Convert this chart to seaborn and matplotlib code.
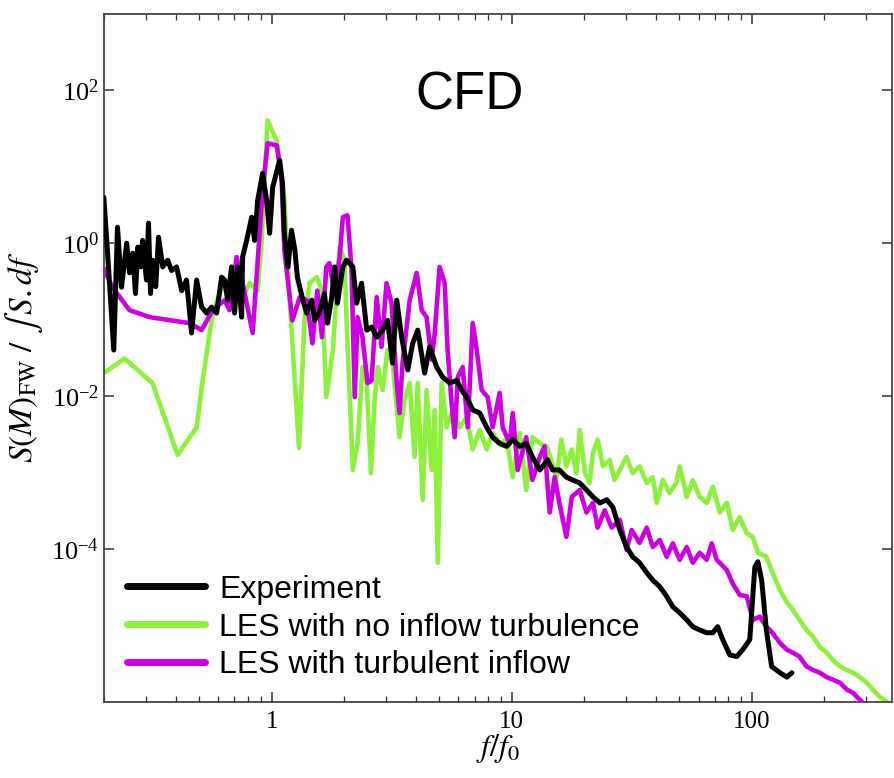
import numpy as np
import pandas as pd
import matplotlib
matplotlib.use("Agg")
import matplotlib.pyplot as plt
import seaborn as sns
from matplotlib.ticker import LogLocator, NullFormatter, LogFormatterMathtext

# ---------------------- Data ----------------------

# Experiment (black)
exp_f = [0.200, 0.207, 0.220, 0.228, 0.237, 0.249, 0.256, 0.264, 0.271, 0.277,
         0.285, 0.290, 0.301, 0.307, 0.313, 0.319, 0.329, 0.338, 0.352, 0.369,
         0.383, 0.402, 0.422, 0.442, 0.464, 0.487, 0.511, 0.536, 0.562, 0.590,
         0.619, 0.637, 0.656, 0.681, 0.701, 0.722, 0.750, 0.757, 0.787, 0.826,
         0.849, 0.875, 0.917, 0.953, 0.981, 1.01, 1.08, 1.11, 1.13, 1.17,
         1.21, 1.25, 1.28, 1.35, 1.40, 1.47, 1.51, 1.58, 1.66, 1.71,
         1.78, 1.83, 1.88, 1.98, 2.05, 2.18, 2.26, 2.37, 2.49, 2.61,
         2.74, 2.90, 3.04, 3.19, 3.32, 3.48, 3.69, 3.87, 4.06, 4.34,
         4.55, 4.87, 5.16, 5.52, 5.90, 6.19, 6.49, 6.88, 7.36, 7.87,
         8.33, 8.91, 9.53, 10.1, 10.8, 11.5, 12.2, 13.1, 14.1, 14.8,
         15.8, 16.9, 17.9, 19.2, 20.5, 21.8, 23.3, 24.9, 26.4, 28.2,
         30.1, 31.9, 34.1, 36.5, 38.7, 41.4, 44.2, 46.9, 50.1, 53.6,
         56.8, 60.7, 64.9, 68.8, 72.1, 75.7, 81.0, 86.6, 91.7, 98.1,
         103, 106, 110, 115, 121, 131, 140, 147]
exp_s = [4.0, 0.81, 0.040, 1.62, 0.266, 1.0, 0.41, 0.74, 0.22, 0.89,
         0.49, 1.09, 0.33, 1.83, 0.22, 0.60, 0.27, 1.2, 0.49, 0.60,
         0.44, 0.49, 0.24, 0.33, 0.067, 0.33, 0.146, 0.122, 0.146, 0.122,
         0.36, 0.33, 0.18, 0.49, 0.122, 0.49, 0.108, 0.66, 1.09, 2.19,
         1.09, 3.65, 8.2, 3.65, 1.35, 5.4, 12.2, 6.1, 1.35, 0.49,
         1.48, 0.81, 0.36, 0.18, 0.122, 0.18, 0.098, 0.122, 0.22, 0.090,
         0.197, 0.49, 0.164, 0.49, 0.60, 0.49, 0.164, 0.30, 0.073, 0.080,
         0.059, 0.073, 0.098, 0.027, 0.18, 0.059, 0.022, 0.049, 0.073, 0.020,
         0.044, 0.024, 0.0177, 0.0148, 0.016, 0.012, 0.0097, 0.0066, 0.0060, 0.0039,
         0.0029, 0.0024, 0.0022, 0.0027, 0.0022, 0.0024, 0.0016, 0.00108, 0.00146, 0.00108,
         0.00108, 0.00087, 0.0008, 0.00073, 0.00059, 0.00048, 0.0004, 0.00044, 0.00035, 0.000177,
         0.000106, 7.9e-5, 6.6e-5, 4.9e-5, 3.9e-5, 3.2e-5, 2.4e-5, 1.75e-5, 1.46e-5, 1.18e-5,
         9.6e-6, 8.7e-6, 8.0e-6, 8.0e-6, 9.6e-6, 6.5e-6, 4.1e-6, 3.9e-6, 4.8e-6, 6.5e-6,
         5.8e-5, 6.8e-5, 3.9e-5, 8.7e-6, 2.9e-6, 2.4e-6, 2.1e-6, 2.4e-6]

# LES with no inflow turbulence (green)
les0_f = [0.200, 0.244, 0.319, 0.406, 0.487, 0.516, 0.568, 0.625, 0.688, 0.757,
          0.810, 0.875, 0.909, 0.962, 1.05, 1.13, 1.19, 1.30, 1.37, 1.44,
          1.54, 1.62, 1.69, 1.80, 1.92, 2.01, 2.07, 2.18, 2.28, 2.39,
          2.49, 2.59, 2.69, 2.77, 2.90, 3.04, 3.19, 3.41, 3.58, 3.76,
          3.94, 4.06, 4.26, 4.42, 4.64, 4.78, 4.92, 5.11, 5.36, 5.68,
          6.07, 6.49, 6.88, 7.36, 7.87, 8.33, 8.91, 9.53, 10.1, 10.8,
          11.5, 12.2,
          13.1, 14.0, 14.6, 15.4, 16.1, 16.9, 17.8, 18.6, 19.2, 20.2,
          21.1, 21.8, 22.8, 24.0, 25.6, 26.8, 28.2, 30.1, 31.9, 34.1,
          36.5, 38.7, 40.2, 42.6, 45.4, 48.5, 50.1, 53.6, 56.8, 60.7,
          64.9, 68.8, 73.6, 78.7, 83.4, 89.1, 95.3, 101, 106,
          115, 122, 131, 140, 148, 158, 169, 180, 192, 205,
          218, 233, 249, 264, 282, 301, 319, 341, 365, 400]
les0_s = [0.020, 0.031, 0.0148, 0.0017, 0.0039, 0.016, 0.122, 0.27, 0.36, 0.197,
          0.30, 0.24, 1.09, 40.5, 22, 3.65, 0.18, 0.0021, 0.098, 0.30,
          0.36, 0.24, 0.0097, 0.040, 0.89, 0.60, 0.049, 0.00108, 0.0024, 0.024,
          0.0148, 0.00098, 0.0097, 0.024, 0.012, 0.040, 0.027, 0.0029, 0.0089, 0.0148,
          0.0016, 0.0148, 0.00044, 0.012, 0.00108, 0.0066, 6.6e-5, 0.0148, 0.0039, 0.0066,
          0.0039, 0.0053, 0.0020, 0.0036, 0.0020, 0.0033, 0.0024, 0.0027, 0.00087, 0.0033,
          0.00059, 0.0029,
          0.0024, 0.0022, 0.00146, 0.00087, 0.0027, 0.0012, 0.0020, 0.00098, 0.0036, 0.00098,
          0.00073, 0.0018, 0.0027, 0.0012, 0.00146, 0.0008, 0.00108, 0.0016, 0.00098, 0.0012,
          0.00073, 0.00087, 0.0004, 0.0008, 0.00054, 0.00073, 0.0012, 0.00048, 0.0008, 0.00048,
          0.0004, 0.00065, 0.0003, 0.0004, 0.000177, 0.00026, 0.00016, 0.000144, 8.9e-5,
          7.9e-5, 4.9e-5, 2.9e-5, 2.0e-5, 1.6e-5, 1.18e-5, 8.7e-6, 7.1e-6, 5.2e-6, 4.4e-6,
          3.5e-6, 2.9e-6, 2.6e-6, 2.4e-6, 2.1e-6, 1.77e-6, 1.44e-6, 1.16e-6, 1.0e-6, 8.5e-7]

# LES with turbulent inflow (magenta)
les1_f = [0.200, 0.217, 0.256, 0.310, 0.455, 0.511, 0.568, 0.637, 0.668, 0.715,
          0.757, 0.834, 0.917, 0.962, 1.05, 1.10, 1.13, 1.22, 1.31, 1.40,
          1.48, 1.55, 1.62, 1.69, 1.74, 1.83, 1.92, 1.98, 2.07, 2.15,
          2.22, 2.28, 2.39, 2.51, 2.61, 2.74, 2.87, 3.01, 3.16, 3.32,
          3.41, 3.51, 3.76, 4.02, 4.22, 4.42, 4.64, 4.78, 5.01, 5.26,
          5.41, 5.62, 5.79, 5.96, 6.25, 6.56, 6.88, 7.15, 7.50, 7.94,
          8.33, 8.91, 9.17, 9.81, 10.1, 10.6, 11.5, 12.2, 13.1,
          13.7, 14.4, 15.1, 15.8, 16.9, 17.8, 19.2, 20.5, 21.8, 22.8,
          24.4, 26.1, 28.2, 30.1, 31.6, 34.1, 36.5, 38.7, 41.4, 44.2,
          46.9, 50.1, 53.6, 56.8, 60.7, 64.9, 68.1, 71.5, 78.7, 83.4,
          89.1, 95.3, 101, 108, 115, 122, 131, 140, 148, 158,
          169, 180, 192, 205, 218, 233, 249, 264, 282, 296]
les1_s = [0.47, 0.266, 0.133, 0.108, 0.090, 0.073, 0.133, 0.18, 0.133, 0.66,
          0.30, 0.067, 4.9, 20.3, 19.1, 7.3, 0.81, 0.098, 0.197, 0.18,
          0.049, 0.24, 0.059, 0.49, 0.55, 0.22, 0.66, 2.19, 2.32, 0.49,
          0.0097, 0.108, 0.059, 0.0148, 0.016, 0.197, 0.044, 0.30, 0.164, 0.0148,
          0.0060, 0.027, 0.18, 0.41, 0.133, 0.108, 0.030, 0.067, 0.49, 0.30,
          0.040, 0.0081, 0.0029, 0.0177, 0.024, 0.0039, 0.090, 0.040, 0.012, 0.0097,
          0.0039, 0.011, 0.0039, 0.0024, 0.0060, 0.00108, 0.0029, 0.0008, 0.0016,
          0.0022, 0.0003, 0.00087, 0.0004, 0.000144, 0.00048, 0.00059, 0.0003, 0.0004, 0.00019,
          0.00032, 0.00019, 0.00024, 9.7e-5, 0.000177, 0.00012, 0.00019, 0.000106, 0.000131, 7.9e-5,
          0.000118, 7.2e-5, 0.000106, 6.6e-5, 8.9e-5, 7.2e-5, 0.000118, 7.2e-5, 5.3e-5, 3.5e-5,
          2.5e-5, 2.4e-5, 1.18e-5, 1.3e-5, 9.6e-6, 8.0e-6, 5.9e-6, 4.8e-6, 4.4e-6, 3.9e-6,
          2.9e-6, 2.6e-6, 2.4e-6, 2.1e-6, 1.94e-6, 1.77e-6, 1.44e-6, 1.31e-6, 1.06e-6, 9e-7]

labels = ["Experiment", "LES with no inflow turbulence", "LES with turbulent inflow"]
colors = ["#000000", "#8cf03c", "#cc00e0"]

data = pd.concat([
    pd.DataFrame({"f": exp_f, "S": exp_s, "case": labels[0]}),
    pd.DataFrame({"f": les0_f, "S": les0_s, "case": labels[1]}),
    pd.DataFrame({"f": les1_f, "S": les1_s, "case": labels[2]}),
], ignore_index=True)

# ---------------------- Plot ----------------------

sns.set_style("ticks")
plt.rcParams["mathtext.fontset"] = "stix"
plt.rcParams["text.color"] = "black"
plt.rcParams["axes.labelcolor"] = "black"

fig = plt.figure(figsize=(8.95, 7.78), dpi=100)
ax = fig.add_axes([0.116, 0.098, 0.881, 0.884])
ax.set_xscale("log")
ax.set_yscale("log")

# green first, then magenta, black experiment on top
for lab, col, lw, z in [(labels[1], colors[1], 3.3, 2), (labels[2], colors[2], 3.3, 3), (labels[0], colors[0], 3.6, 4)]:
    sub = data[data["case"] == lab]
    sns.lineplot(data=sub, x="f", y="S", color=col, lw=lw, sort=False,
                 estimator=None, ax=ax, label=lab, zorder=z)

ax.set_xlim(0.2, 385)
ax.set_ylim(1e-6, 1e3)

ax.set_yticks([1e-4, 1e-2, 1, 1e2])
ax.yaxis.set_major_formatter(LogFormatterMathtext())
ax.yaxis.set_minor_locator(plt.NullLocator())
ax.xaxis.set_minor_locator(LogLocator(base=10, subs=np.arange(2, 10)))
ax.xaxis.set_minor_formatter(NullFormatter())
ax.set_xticks([1, 10, 100])
ax.set_xticklabels(["1", "10", "100"])

ax.tick_params(which="both", direction="in", top=True, right=True, colors="#333333",
               labelcolor="black")
ax.tick_params(axis="x", labelsize=18, pad=7)
ax.tick_params(axis="y", labelsize=19)
ax.tick_params(which="major", length=7, width=1.1)
ax.tick_params(which="minor", length=4, width=0.9)
for lab in ax.get_xticklabels() + ax.get_yticklabels():
    lab.set_family("Liberation Serif")
for sp in ax.spines.values():
    sp.set_color("#444444")
    sp.set_linewidth(1.3)

ax.set_xlabel(r"$f/f_0$", fontsize=23, labelpad=-1)
ax.set_ylabel(r"$S(M)_{\mathrm{FW}}\ /\ \int\, S.df$", fontsize=24, labelpad=4)

ax.text(0.464, 0.882, "CFD", transform=ax.transAxes, ha="center", va="center",
        fontsize=38, family="Liberation Sans")

# legend in the same order as the figure
handles, labs = ax.get_legend_handles_labels()
order = [labs.index(l) for l in labels]
leg = ax.legend([handles[i] for i in order], labels, loc="upper left",
                bbox_to_anchor=(0.029, 0.185), frameon=False,
                prop={"family": "Liberation Sans", "size": 23},
                handlelength=2.45, handletextpad=0.45, labelspacing=0.25,
                borderpad=0, borderaxespad=0)
for ln in leg.get_lines():
    ln.set_linewidth(5)

fig.savefig("out.png", dpi=100)
